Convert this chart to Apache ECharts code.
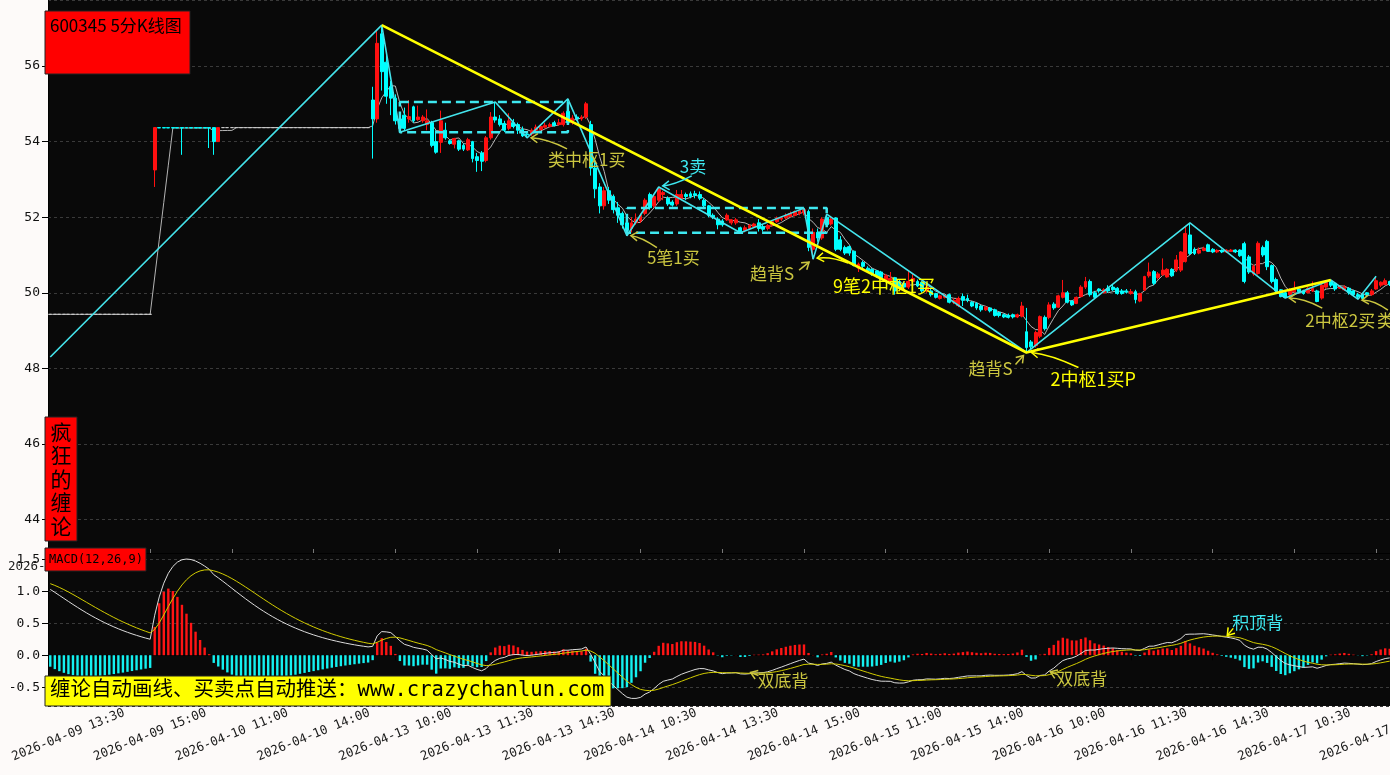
<!DOCTYPE html>
<html><head><meta charset="utf-8">
<script src="https://cdn.jsdelivr.net/npm/echarts@6/dist/echarts.min.js"></script>
<style>html,body{margin:0;padding:0;background:#fdfaf9}#c{width:1390px;height:775px}</style>
</head><body><div id="c"></div>
<script>
// ---------------- data ----------------
const tradingDays = ['2026-04-09','2026-04-10','2026-04-13','2026-04-14','2026-04-15','2026-04-16','2026-04-17'];
const timeSlots = ['09:35','09:40','09:45','09:50','09:55','10:00','10:05','10:10','10:15','10:20','10:25','10:30',
  '10:35','10:40','10:45','10:50','10:55','11:00','11:05','11:10','11:15','11:20','11:25','11:30',
  '13:05','13:10','13:15','13:20','13:25','13:30','13:35','13:40','13:45','13:50','13:55','14:00',
  '14:05','14:10','14:15','14:20','14:25','14:30','14:35','14:40','14:45','14:50','14:55','15:00'];
const firstBar = '2026-04-09 13:10';
// [open, close, low, high]
const kline = [
[49.43,49.43,49.43,49.43],[49.43,49.43,49.43,49.43],[49.43,49.43,49.43,49.43],[49.43,49.43,49.43,49.43],[49.43,49.43,49.43,49.43],
[49.43,49.43,49.43,49.43],[49.43,49.43,49.43,49.43],[49.43,49.43,49.43,49.43],[49.43,49.43,49.43,49.43],[49.43,49.43,49.43,49.43],
[49.43,49.43,49.43,49.43],[49.43,49.43,49.43,49.43],[49.43,49.43,49.43,49.43],[49.43,49.43,49.43,49.43],[49.43,49.43,49.43,49.43],
[49.43,49.43,49.43,49.43],[49.43,49.43,49.43,49.43],[49.43,49.43,49.43,49.43],[49.43,49.43,49.43,49.43],[49.43,49.43,49.43,49.43],
[49.43,49.43,49.43,49.43],[49.43,49.43,49.43,49.43],[49.43,49.43,49.43,49.43],
[53.25,54.37,52.8,54.37],
[54.37,54.36,54.36,54.37],[54.37,54.36,54.36,54.37],[54.37,54.36,54.36,54.37],[54.37,54.36,54.36,54.37],[54.37,54.36,54.36,54.37],
[54.37,54.36,53.65,54.37],
[54.37,54.36,54.36,54.37],[54.37,54.36,54.36,54.37],[54.37,54.36,54.36,54.37],[54.37,54.36,54.36,54.37],[54.37,54.36,54.36,54.37],
[54.37,54.36,53.83,54.37],[54.37,54.0,53.65,54.37],[54.0,54.37,54.0,54.37],
[54.37,54.37,54.37,54.37],[54.37,54.37,54.37,54.37],[54.37,54.37,54.37,54.37],[54.37,54.37,54.37,54.37],[54.37,54.37,54.37,54.37],
[54.37,54.37,54.37,54.37],[54.37,54.37,54.37,54.37],[54.37,54.37,54.37,54.37],[54.37,54.37,54.37,54.37],[54.37,54.37,54.37,54.37],
[54.37,54.37,54.37,54.37],[54.37,54.37,54.37,54.37],[54.37,54.37,54.37,54.37],[54.37,54.37,54.37,54.37],[54.37,54.37,54.37,54.37],
[54.37,54.37,54.37,54.37],[54.37,54.37,54.37,54.37],[54.37,54.37,54.37,54.37],[54.37,54.37,54.37,54.37],[54.37,54.37,54.37,54.37],
[54.37,54.37,54.37,54.37],[54.37,54.37,54.37,54.37],[54.37,54.37,54.37,54.37],[54.37,54.37,54.37,54.37],[54.37,54.37,54.37,54.37],
[54.37,54.37,54.37,54.37],[54.37,54.37,54.37,54.37],[54.37,54.37,54.37,54.37],[54.37,54.37,54.37,54.37],[54.37,54.37,54.37,54.37],
[54.37,54.37,54.37,54.37],[54.37,54.37,54.37,54.37],[54.37,54.37,54.37,54.37],
[55.1,54.6,53.55,55.45],[54.6,56.6,54.5,56.95],[56.85,55.85,55.35,57.08],[56.1,55.2,55.0,56.3],[55.45,55.15,54.7,55.6],
[55.15,54.55,54.45,55.25],[54.6,54.35,54.25,54.7],[54.7,54.35,54.28,54.9],[54.6,54.66,54.5,55.1],[54.92,54.55,54.5,54.95],
[54.58,54.65,54.55,54.95],[54.55,54.65,54.5,54.7],[54.45,54.55,54.3,54.85],[54.5,53.9,53.85,54.55],[54.0,53.72,53.68,54.3],
[53.98,54.55,53.7,54.82],[54.3,54.1,54.05,54.5],[54.02,53.95,53.92,54.05],[53.93,54.08,53.82,54.1],[54.02,53.8,53.75,54.05],
[53.9,53.8,53.75,53.95],[53.78,54.05,53.75,54.1],[54.0,53.55,53.45,54.02],[53.6,53.5,53.2,53.7],[53.7,53.48,53.22,53.75],
[53.5,54.1,53.45,54.15],[54.1,54.65,54.05,54.78],[54.65,54.57,54.5,55.05],[54.6,54.45,54.4,54.7],[54.48,54.3,54.25,54.55],
[54.35,54.55,54.3,54.75],[54.5,54.4,54.35,54.6],[54.45,54.3,54.2,54.5],[54.32,54.15,54.12,54.4],[54.2,54.18,54.1,54.28],
[54.2,54.3,54.15,54.35],[54.3,54.38,54.25,54.45],[54.32,54.4,54.3,54.45],[54.38,54.43,54.35,54.5],[54.4,54.45,54.38,54.5],
[54.5,54.42,54.4,54.55],[54.45,54.5,54.42,54.6],[54.45,54.75,54.4,54.8],[54.8,54.5,54.45,55.13],[54.5,54.62,54.45,54.7],
[54.65,54.6,54.55,54.72],[54.6,54.65,54.55,54.7],[54.65,55.0,54.6,55.05],
[54.45,53.3,53.1,54.55],[53.3,52.75,52.5,53.45],[52.8,52.3,52.1,52.9],[52.3,52.7,52.2,52.8],[52.7,52.45,52.35,52.8],
[52.55,52.2,52.1,52.6],[52.25,52.05,51.85,52.4],[52.1,51.8,51.7,52.15],[51.85,51.65,51.51,51.95],[51.7,51.85,51.6,52.0],
[51.85,51.95,51.8,52.1],[51.9,52.05,51.85,52.1],[52.1,52.45,52.05,52.5],[52.6,52.25,52.2,52.65],[52.3,52.55,52.25,52.6],
[52.45,52.75,52.4,52.8],[52.6,52.65,52.45,52.7],[52.5,52.35,52.3,52.55],[52.4,52.32,52.28,52.45],[52.35,52.6,52.3,52.72],
[52.5,52.6,52.45,52.72],[52.6,52.55,52.45,52.65],[52.62,52.55,52.5,52.68],[52.62,52.58,52.5,52.7],[52.6,52.5,52.45,52.68],
[52.45,52.3,52.25,52.5],[52.3,52.05,52.0,52.32],[52.05,52.0,51.95,52.1],[51.95,51.8,51.68,52.0],[51.9,51.8,51.75,51.95],
[51.93,52.05,51.9,52.1],[51.85,51.93,51.8,51.95],[51.85,51.93,51.8,51.98],[51.72,51.62,51.59,51.75],[51.65,51.72,51.6,51.78],
[51.7,51.78,51.68,51.82],[51.75,51.82,51.72,51.85],[51.85,51.7,51.62,51.95],[51.75,51.68,51.62,51.8],[51.7,51.78,51.65,51.82],
[51.8,51.88,51.75,51.92],[51.88,51.98,51.85,52.02],[51.95,51.98,51.9,52.02],[51.98,52.05,51.95,52.1],[52.02,52.1,52.0,52.15],
[52.05,52.15,52.02,52.18],[52.1,52.18,52.05,52.22],[52.12,52.2,52.05,52.24],
[52.15,51.2,51.1,52.2],[51.15,51.6,50.89,51.7],[51.6,51.45,51.35,51.7],[51.45,51.95,51.4,52.0],[52.0,51.8,51.75,52.08],
[51.82,51.95,51.78,52.0],[51.98,51.15,51.1,52.0],[51.4,51.15,51.1,51.5],[51.2,51.05,51.0,51.25],[51.22,51.05,50.98,51.25],
[51.1,50.72,50.7,51.12],[50.65,50.76,50.55,50.8],[50.8,50.7,50.65,50.85],[50.65,50.58,50.55,50.7],[50.62,50.5,50.45,50.65],
[50.58,50.45,50.4,50.6],[50.55,50.4,50.38,50.58],[50.35,50.45,50.3,50.5],[50.3,50.38,50.28,50.55],[50.4,50.05,49.95,50.42],
[50.3,50.15,50.1,50.35],[50.25,50.15,50.1,50.3],[50.15,50.3,50.1,50.6],[50.3,50.38,50.25,50.5],[50.3,50.18,50.15,50.35],
[50.28,50.05,50.0,50.3],[50.05,50.15,50.0,50.2],[50.05,49.95,49.9,50.1],[49.98,49.88,49.85,50.0],[49.85,49.92,49.82,49.95],
[49.88,49.92,49.85,49.95],[49.95,49.75,49.72,49.98],[49.75,49.8,49.7,49.85],[49.66,49.85,49.62,49.9],[49.9,49.8,49.65,49.98],
[49.85,49.8,49.75,49.95],[49.75,49.65,49.62,49.78],[49.72,49.6,49.55,49.75],[49.65,49.55,49.5,49.68],[49.55,49.62,49.52,49.65],
[49.6,49.52,49.48,49.62],[49.55,49.4,49.37,49.58],[49.48,49.4,49.35,49.5],[49.42,49.36,49.33,49.45],[49.4,49.35,49.32,49.45],
[49.42,49.36,49.32,49.45],[49.36,49.42,49.33,49.45],[49.38,49.65,49.35,49.76],
[48.97,48.55,48.42,49.6],[48.7,48.57,48.5,48.75],[48.6,48.95,48.55,49.0],[48.85,49.37,48.8,49.4],[49.35,49.05,49.0,49.4],
[49.35,49.68,49.3,49.75],[49.7,49.6,49.55,49.75],[49.62,49.92,49.6,49.95],[49.88,50.0,49.85,50.34],[50.0,49.75,49.72,50.05],
[49.78,49.68,49.65,49.8],[49.72,49.88,49.7,49.9],[49.9,50.15,49.88,50.2],[50.15,50.3,50.1,50.42],[50.3,49.95,49.9,50.35],
[50.0,49.88,49.85,50.05],[50.1,50.05,50.0,50.12],[50.0,50.08,49.98,50.12],[50.12,50.05,50.0,50.2],[50.15,50.08,50.05,50.22],
[50.12,49.98,49.95,50.15],[50.05,49.98,49.95,50.1],[50.05,50.02,49.98,50.1],[49.98,50.03,49.95,50.1],[50.03,49.82,49.72,50.08],
[49.78,49.98,49.75,50.0],[50.07,50.43,50.05,50.45],[50.45,50.55,50.4,50.8],[50.56,50.25,50.2,50.6],[50.4,50.5,50.35,50.55],
[50.48,50.6,50.45,50.91],[50.42,50.62,50.4,50.65],[50.62,50.45,50.42,50.65],[50.6,50.87,50.55,51.0],[50.6,51.08,50.55,51.1],
[50.83,51.57,50.8,51.75],[51.53,51.04,51.0,51.85],[51.15,51.04,51.0,51.2],[51.05,51.13,51.02,51.2],[51.12,51.18,51.1,51.22],
[51.27,51.1,51.08,51.3],[51.15,51.08,51.05,51.18],[51.08,51.12,51.05,51.15],[51.12,51.08,51.05,51.15],[51.08,51.13,51.05,51.15],
[51.1,51.13,51.08,51.16],[51.13,51.08,51.05,51.15],[51.13,50.98,50.95,51.15],
[51.3,50.3,50.25,51.35],[50.95,50.55,50.5,51.0],[50.5,50.7,50.45,50.75],[50.51,51.31,50.48,51.36],[51.2,51.0,50.95,51.25],
[51.36,50.69,50.6,51.4],[50.72,50.3,50.25,50.75],[50.35,50.05,50.0,50.4],[50.08,49.9,49.88,50.1],[50.0,49.88,49.86,50.05],
[49.95,50.08,49.9,50.12],[50.03,50.07,50.0,50.3],[50.1,50.03,50.0,50.15],[50.05,49.98,49.95,50.08],[50.0,50.12,49.98,50.15],
[50.05,50.12,50.02,50.3],[50.05,49.77,49.75,50.08],[49.86,50.2,49.82,50.25],[50.15,50.28,50.1,50.3],[50.3,50.2,50.15,50.35],
[50.25,50.1,50.05,50.28],[50.12,50.15,50.1,50.2],[50.08,50.15,50.05,50.2],[50.12,50.0,49.95,50.15],[50.05,49.95,49.9,50.08],
[49.95,49.9,49.83,50.0],[49.95,49.85,49.84,50.0],[50.0,49.95,49.9,50.02],[49.95,50.05,49.92,50.1],[50.1,50.32,50.08,50.44],
[50.2,50.28,50.15,50.3],[50.22,50.32,50.2,50.38],[50.3,50.22,50.18,50.32]
];
// Chan-theory strokes (笔) vertices: [bar index, price]
const biPoints = [[0,48.3],[73,57.08],[77,54.25],[98,55.05],[105,54.1],[114,55.13],[127,51.51],[134,52.8],[152,51.59],
  [166,52.24],[168,50.89],[171,52.08],[215,48.42],[251,51.85],[272,49.86],[282,50.34],[288,49.83],[292,50.44]];
// segments (线段)
const segmentPoints = [[73,57.08],[215,48.42],[282,50.34]];
// pivots (中枢): [startIndex, endIndex, low, high]
const pivots = [[77,114,54.25,55.05],[127,171,51.59,52.24]];
// MACD state carried in from earlier history (read from the first visible values)
const macdSeed = {ema12: 49.05, ema26: 48.02, dea: 1.12};
// annotations
const noteLabels = ['类中枢1买','3卖','5笔1买','趋背S','9笔2中枢1买','趋背S','2中枢1买P','2中枢2买','类2买'];
const noteAnchors = [[105,54.1],[134,52.8],[127,51.51],[168,50.89],[168,50.89],[215,48.42],[215,48.42],[272,49.86],[288,49.83]];
const macdNoteLabels = ['双底背','双底背','积顶背'];
const macdNoteAnchors = [[154,-0.27],[220,-0.26],[259,0.295]];
const yTickLabelsMain = [44,46,48,50,52,54,56];

// ---------------- derived ----------------
const allCats = [];
tradingDays.forEach(d => timeSlots.forEach(t => allCats.push(d + ' ' + t)));
const start = allCats.indexOf(firstBar);
const categories = allCats.slice(start, start + kline.length);
const closes = kline.map(k => k[1]);
const ma5 = closes.map((c, i) => {
  const s = closes.slice(Math.max(0, i - 4), i + 1);
  return +(s.reduce((a, b) => a + b, 0) / s.length).toFixed(3);
});
let e12 = macdSeed.ema12, e26 = macdSeed.ema26, dea = macdSeed.dea;
const difArr = [], deaArr = [], histArr = [];
closes.forEach((c, i) => {
  if (i > 0) { e12 += (c - e12) * 2 / 13; e26 += (c - e26) * 2 / 27; }
  const d = e12 - e26;
  if (i > 0) dea += (d - dea) * 2 / 10;
  difArr.push(+d.toFixed(4)); deaArr.push(+dea.toFixed(4)); histArr.push(+(2 * (d - dea)).toFixed(4));
});

// ---------------- styles ----------------
const RED = '#ff1010', CYAN = '#00ffff', BI = '#44e4ec', YEL = '#ffff00', OLIVE = '#cbc640', CYT = '#3ee8f0';
const AXFONT = '"DejaVu Sans Mono", monospace';
const CJK = '"Noto Sans CJK SC", sans-serif';
const labelShown = idx => (idx - 4) % 18 === 0;

const pivotSeries = pivots.map(p => ({
  type: 'line', xAxisIndex: 0, yAxisIndex: 0, z: 4, silent: true, showSymbol: false, animation: false,
  data: [[p[0], p[3]], [p[1], p[3]], [p[1], p[2]], [p[0], p[2]], [p[0], p[3]]],
  lineStyle: {color: CYT, width: 2.5, type: [9, 5]}
}));

const option = {
  animation: false,
  backgroundColor: '#fdfaf9',
  grid: [
    {left: 48, top: 0, width: 1344, height: 553, show: true, backgroundColor: '#090909', borderWidth: 0,
     containLabel: false, outerBoundsMode: 'none'},
    {left: 48, top: 553, width: 1344, height: 153, show: true, backgroundColor: '#090909', borderWidth: 0,
     containLabel: false, outerBoundsMode: 'none'}
  ],
  xAxis: [
    {gridIndex: 0, type: 'category', data: categories, boundaryGap: true,
     axisLine: {show: true, lineStyle: {color: '#000'}},
     axisTick: {show: true, inside: true, length: 4, alignWithLabel: true, interval: labelShown, lineStyle: {color: '#777'}},
     axisLabel: {show: false}, splitLine: {show: false}},
    {gridIndex: 1, type: 'category', data: categories, boundaryGap: true,
     axisLine: {show: true, lineStyle: {color: '#000'}},
     axisTick: {show: true, length: 5, alignWithLabel: true, interval: labelShown, lineStyle: {color: '#000'}},
     axisLabel: {interval: labelShown, rotate: 22, align: 'center', verticalAlign: 'middle', margin: 29,
       color: '#1a1a1a', fontFamily: AXFONT, fontSize: 12.5},
     splitLine: {show: false}}
  ],
  yAxis: [
    {gridIndex: 0, type: 'value', min: 43.116, max: 57.746, splitNumber: 7,
     axisLine: {show: true, lineStyle: {color: '#000'}},
     axisTick: {show: true, length: 6, lineStyle: {color: '#000'}},
     axisLabel: {showMinLabel: false, showMaxLabel: false, color: '#111', fontFamily: AXFONT, fontSize: 13, margin: 8,
       formatter: v => yTickLabelsMain.indexOf(Math.round(v)) >= 0 && Math.abs(v - Math.round(v)) < 1e-6 ? String(Math.round(v)) : ''},
     splitLine: {show: true, lineStyle: {color: '#3a3a3a', type: [3, 3]}}},
    {gridIndex: 1, type: 'value', min: -0.795, max: 1.6, splitNumber: 5,
     axisLine: {show: true, lineStyle: {color: '#000'}},
     axisTick: {show: true, length: 6, lineStyle: {color: '#000'}},
     axisLabel: {showMinLabel: false, showMaxLabel: false, color: '#111', fontFamily: AXFONT, fontSize: 13, margin: 8,
       formatter: v => { const r = Math.round(v * 2) / 2; return Math.abs(v - r) < 1e-6 ? v.toFixed(1) : ''; }},
     splitLine: {show: true, lineStyle: {color: '#3a3a3a', type: [3, 3]}}}
  ],
  series: [
    {type: 'line', name: 'MA5', xAxisIndex: 0, yAxisIndex: 0, z: 2, data: ma5, showSymbol: false, silent: true,
     lineStyle: {color: '#b4b4b4', width: 1}},
    {type: 'candlestick', xAxisIndex: 0, yAxisIndex: 0, z: 3, data: kline, barWidth: 3.4, silent: true,
     itemStyle: {color: RED, color0: CYAN, borderColor: RED, borderColor0: CYAN, borderColorDoji: '#c8c8c8', borderWidth: 1}},
    ...pivotSeries,
    {type: 'line', xAxisIndex: 0, yAxisIndex: 0, z: 5, data: biPoints, showSymbol: false, silent: true,
     lineStyle: {color: BI, width: 1.6}},
    {type: 'line', xAxisIndex: 0, yAxisIndex: 0, z: 6, data: segmentPoints, showSymbol: false, silent: true,
     lineStyle: {color: YEL, width: 2.6}},
    {type: 'bar', xAxisIndex: 1, yAxisIndex: 1, data: histArr, barWidth: 2.4, silent: true,
     itemStyle: {color: p => p.value >= 0 ? '#ff1414' : '#14f0f0'}},
    {type: 'line', xAxisIndex: 1, yAxisIndex: 1, data: difArr, showSymbol: false, silent: true, z: 4,
     lineStyle: {color: '#dcdcdc', width: 1}},
    {type: 'line', xAxisIndex: 1, yAxisIndex: 1, data: deaArr, showSymbol: false, silent: true, z: 4,
     lineStyle: {color: '#d2cc00', width: 1}}
  ]
};

const chart = echarts.init(document.getElementById('c'), null, {renderer: 'canvas'});
chart.setOption(option);

// ---------------- annotations (graphics anchored to data) ----------------
const noteStyle = [
  {color: OLIVE, size: 17, tx: 21, ty: 22, from: [40, 11], ctrl: [20, 1], to: [4, 0]},
  {color: CYT, size: 17, tx: 21, ty: -20, from: [33, -11], ctrl: [16, -2], to: [4, -1]},
  {color: OLIVE, size: 17, tx: 20, ty: 22, from: [30, 12], ctrl: [14, 1], to: [4, 0]},
  {color: OLIVE, size: 17, tx: -63, ty: 14, from: [-14, 11], to: [-4, 3]},
  {color: YEL, size: 18, tx: 20, ty: 27, from: [35, 4], ctrl: [18, -3], to: [4, -1]},
  {color: OLIVE, size: 17, tx: -58, ty: 16, from: [-11, 12], to: [-3, 3]},
  {color: YEL, size: 18, tx: 24, ty: 27, from: [52, 15], ctrl: [24, 2], to: [5, 0]},
  {color: OLIVE, size: 17, tx: 20, ty: 22, from: [37, 10], ctrl: [18, 0], to: [4, 0]},
  {color: OLIVE, size: 17, tx: 19, ty: 21, from: [30, 11], ctrl: [15, 0], to: [4, 1]}
];
const macdNoteStyle = [
  {color: OLIVE, arrow: OLIVE, size: 17, tx: 8, ty: 8, from: [9, 3], to: [1, 0]},
  {color: OLIVE, arrow: OLIVE, size: 17, tx: 7, ty: 7, from: [9, 3], to: [1, 0]},
  {color: CYT, arrow: YEL, size: 17, tx: 6, ty: -14, from: [7, -8], to: [1, -1]}
];

function arrowEls(p, st, color) {
  const s = [p[0] + st.from[0], p[1] + st.from[1]], e = [p[0] + st.to[0], p[1] + st.to[1]];
  const els = [];
  let dirFrom = s;
  if (st.ctrl) {
    const c = [p[0] + st.ctrl[0], p[1] + st.ctrl[1]];
    els.push({type: 'bezierCurve', z: 100, silent: true,
      shape: {x1: s[0], y1: s[1], x2: e[0], y2: e[1], cpx1: c[0], cpy1: c[1]},
      style: {stroke: color, lineWidth: 1.5, fill: 'none'}});
    dirFrom = c;
  } else {
    els.push({type: 'line', z: 100, silent: true, shape: {x1: s[0], y1: s[1], x2: e[0], y2: e[1]},
      style: {stroke: color, lineWidth: 1.5}});
  }
  const ang = Math.atan2(e[1] - dirFrom[1], e[0] - dirFrom[0]);
  const L = 8, sp = 0.6;
  const a1 = [e[0] - L * Math.cos(ang - sp), e[1] - L * Math.sin(ang - sp)];
  const a2 = [e[0] - L * Math.cos(ang + sp), e[1] - L * Math.sin(ang + sp)];
  els.push({type: 'polyline', z: 100, silent: true, shape: {points: [a1, e, a2]},
    style: {stroke: color, lineWidth: 1.5, fill: 'none'}});
  return els;
}
function textEl(x, y, text, color, font, z) {
  return {type: 'text', x: x, y: y, z: z || 101, silent: true,
    style: {text: text, fill: color, font: font, align: 'left', verticalAlign: 'middle'}};
}

const g = [];
// title box
g.push({type: 'rect', z: 110, shape: {x: 45, y: 11, width: 145, height: 63}, style: {fill: '#ff0000', stroke: '#222', lineWidth: 1}});
g.push(textEl(50, 26, '600345 5分K线图', '#000', '17px ' + CJK, 112));
// vertical brand box
g.push({type: 'rect', z: 110, shape: {x: 45, y: 417, width: 32, height: 124}, style: {fill: '#ff0000', stroke: '#222', lineWidth: 1}});
['疯', '狂', '的', '缠', '论'].forEach((ch, k) => {
  g.push({type: 'text', x: 61, y: 432 + k * 23.5, z: 112, silent: true,
    style: {text: ch, fill: '#000', font: '21px ' + CJK, align: 'center', verticalAlign: 'middle'}});
});
// MACD tag
g.push({type: 'rect', z: 110, shape: {x: 45, y: 548, width: 101, height: 23}, style: {fill: '#ff0000', stroke: '#222', lineWidth: 1}});
g.push(textEl(49, 560, 'MACD(12,26,9)', '#000', '12px ' + AXFONT, 112));
// promo box
g.push({type: 'rect', z: 110, shape: {x: 45, y: 676, width: 566, height: 30}, style: {fill: '#ffff00', stroke: '#222', lineWidth: 1}});
g.push(textEl(50, 691, '缠论自动画线、买卖点自动推送：www.crazychanlun.com', '#000', '20.5px ' + AXFONT + ', ' + CJK, 112));
// stray axis label fragment at left margin
g.push(textEl(8, 567, '2026-', '#222', '12.5px ' + AXFONT));

noteLabels.forEach((t, k) => {
  const p = chart.convertToPixel({xAxisIndex: 0, yAxisIndex: 0}, noteAnchors[k]);
  const st = noteStyle[k];
  g.push(textEl(p[0] + st.tx, p[1] + st.ty, t, st.color, st.size + 'px ' + CJK));
  arrowEls(p, st, st.color).forEach(e => g.push(e));
});
macdNoteLabels.forEach((t, k) => {
  const p = chart.convertToPixel({xAxisIndex: 1, yAxisIndex: 1}, macdNoteAnchors[k]);
  const st = macdNoteStyle[k];
  g.push(textEl(p[0] + st.tx, p[1] + st.ty, t, st.color, st.size + 'px ' + CJK));
  arrowEls(p, st, st.arrow).forEach(e => g.push(e));
});
chart.setOption({graphic: g});
</script>
</body></html>
